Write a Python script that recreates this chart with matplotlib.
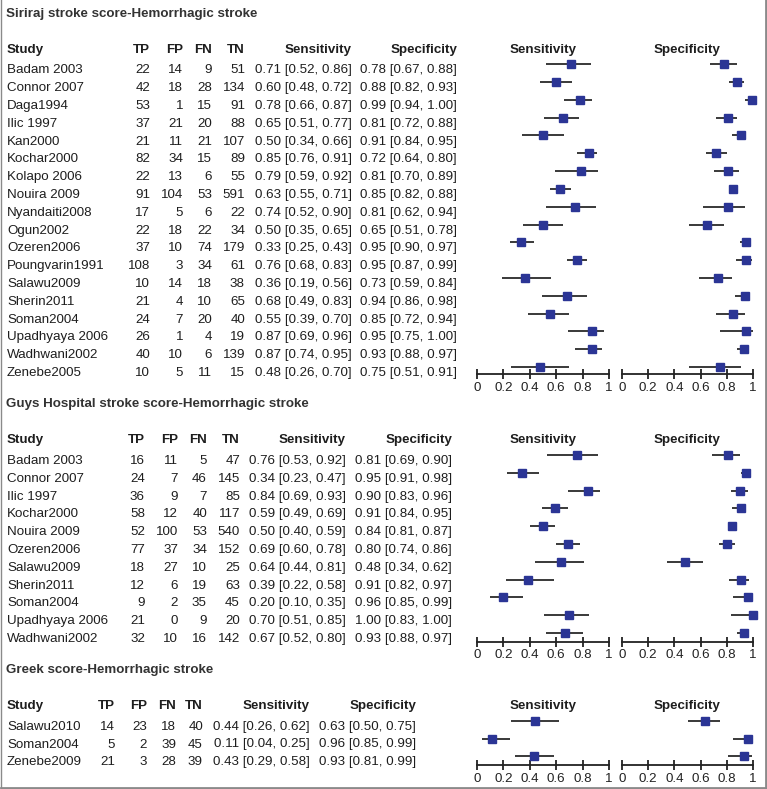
import matplotlib.pyplot as plt

plt.rcParams['font.family'] = ['Liberation Sans', 'DejaVu Sans']

# Siriraj stroke score
siriraj_study = ['Badam 2003', 'Connor 2007', 'Daga1994', 'Ilic 1997', 'Kan2000', 'Kochar2000',
                 'Kolapo 2006', 'Nouira 2009', 'Nyandaiti2008', 'Ogun2002', 'Ozeren2006',
                 'Poungvarin1991', 'Salawu2009', 'Sherin2011', 'Soman2004', 'Upadhyaya 2006',
                 'Wadhwani2002', 'Zenebe2005']
siriraj_tp = [22, 42, 53, 37, 21, 82, 22, 91, 17, 22, 37, 108, 10, 21, 24, 26, 40, 10]
siriraj_fp = [14, 18, 1, 21, 11, 34, 13, 104, 5, 18, 10, 3, 14, 4, 7, 1, 10, 5]
siriraj_fn = [9, 28, 15, 20, 21, 15, 6, 53, 6, 22, 74, 34, 18, 10, 20, 4, 6, 11]
siriraj_tn = [51, 134, 91, 88, 107, 89, 55, 591, 22, 34, 179, 61, 38, 65, 40, 19, 139, 15]
siriraj_sens = [0.71, 0.60, 0.78, 0.65, 0.50, 0.85, 0.79, 0.63, 0.74, 0.50, 0.33, 0.76, 0.36,
                0.68, 0.55, 0.87, 0.87, 0.48]
siriraj_sens_ci = [(0.52, 0.86), (0.48, 0.72), (0.66, 0.87), (0.51, 0.77), (0.34, 0.66),
                   (0.76, 0.91), (0.59, 0.92), (0.55, 0.71), (0.52, 0.90), (0.35, 0.65),
                   (0.25, 0.43), (0.68, 0.83), (0.19, 0.56), (0.49, 0.83), (0.39, 0.70),
                   (0.69, 0.96), (0.74, 0.95), (0.26, 0.70)]
siriraj_spec = [0.78, 0.88, 0.99, 0.81, 0.91, 0.72, 0.81, 0.85, 0.81, 0.65, 0.95, 0.95, 0.73,
                0.94, 0.85, 0.95, 0.93, 0.75]
siriraj_spec_ci = [(0.67, 0.88), (0.82, 0.93), (0.94, 1.00), (0.72, 0.88), (0.84, 0.95),
                   (0.64, 0.80), (0.70, 0.89), (0.82, 0.88), (0.62, 0.94), (0.51, 0.78),
                   (0.90, 0.97), (0.87, 0.99), (0.59, 0.84), (0.86, 0.98), (0.72, 0.94),
                   (0.75, 1.00), (0.88, 0.97), (0.51, 0.91)]

# Guys Hospital stroke score
guys_study = ['Badam 2003', 'Connor 2007', 'Ilic 1997', 'Kochar2000', 'Nouira 2009', 'Ozeren2006',
              'Salawu2009', 'Sherin2011', 'Soman2004', 'Upadhyaya 2006', 'Wadhwani2002']
guys_tp = [16, 24, 36, 58, 52, 77, 18, 12, 9, 21, 32]
guys_fp = [11, 7, 9, 12, 100, 37, 27, 6, 2, 0, 10]
guys_fn = [5, 46, 7, 40, 53, 34, 10, 19, 35, 9, 16]
guys_tn = [47, 145, 85, 117, 540, 152, 25, 63, 45, 20, 142]
guys_sens = [0.76, 0.34, 0.84, 0.59, 0.50, 0.69, 0.64, 0.39, 0.20, 0.70, 0.67]
guys_sens_ci = [(0.53, 0.92), (0.23, 0.47), (0.69, 0.93), (0.49, 0.69), (0.40, 0.59),
                (0.60, 0.78), (0.44, 0.81), (0.22, 0.58), (0.10, 0.35), (0.51, 0.85),
                (0.52, 0.80)]
guys_spec = [0.81, 0.95, 0.90, 0.91, 0.84, 0.80, 0.48, 0.91, 0.96, 1.00, 0.93]
guys_spec_ci = [(0.69, 0.90), (0.91, 0.98), (0.83, 0.96), (0.84, 0.95), (0.81, 0.87),
                (0.74, 0.86), (0.34, 0.62), (0.82, 0.97), (0.85, 0.99), (0.83, 1.00),
                (0.88, 0.97)]

# Greek score
greek_study = ['Salawu2010', 'Soman2004', 'Zenebe2009']
greek_tp = [14, 5, 21]
greek_fp = [23, 2, 3]
greek_fn = [18, 39, 28]
greek_tn = [40, 45, 39]
greek_sens = [0.44, 0.11, 0.43]
greek_sens_ci = [(0.26, 0.62), (0.04, 0.25), (0.29, 0.58)]
greek_spec = [0.63, 0.96, 0.93]
greek_spec_ci = [(0.50, 0.75), (0.85, 0.99), (0.81, 0.99)]

W, H = 767, 789
DY = 17.8
TXT = '#1e1e1e'
NAVY = '#2b3595'
FS = 9.6

# title, data, then layout in pixels: title baseline, header baseline, first row, axis line, column right edges
sections = [
    ('Siriraj stroke score-Hemorrhagic stroke',
     siriraj_study, siriraj_tp, siriraj_fp, siriraj_fn, siriraj_tn,
     siriraj_sens, siriraj_sens_ci, siriraj_spec, siriraj_spec_ci,
     16.5, 52.7, 64.3, 374, [150, 183, 212, 245, 352, 457]),
    ('Guys Hospital stroke score-Hemorrhagic stroke',
     guys_study, guys_tp, guys_fp, guys_fn, guys_tn,
     guys_sens, guys_sens_ci, guys_spec, guys_spec_ci,
     406.7, 442.7, 455, 641.7, [145, 178, 207, 240, 346, 452]),
    ('Greek score-Hemorrhagic stroke',
     greek_study, greek_tp, greek_fp, greek_fn, greek_tn,
     greek_sens, greek_sens_ci, greek_spec, greek_spec_ci,
     673.3, 709.3, 720.7, 765, [115, 147, 176, 203, 310, 416]),
]

fig = plt.figure(figsize=(W / 100, H / 100), dpi=100)

# grey frame (left, right, bottom)
frame = fig.add_axes([0.5 / W, 1 / H, 765.5 / W, 1 - 1 / H])
frame.set_xticks([])
frame.set_yticks([])
frame.patch.set_visible(False)
frame.spines['top'].set_visible(False)
for side, lw in [('left', 1.0), ('right', 2.0), ('bottom', 2.0)]:
    frame.spines[side].set_color('#8a8a8a')
    frame.spines[side].set_linewidth(lw)

bg = fig.add_axes([0, 0, 1, 1])
bg.set_xlim(0, W)
bg.set_ylim(H, 0)
bg.axis('off')


def fmt_ci(v, ci):
    return f'{v:.2f} [{ci[0]:.2f}, {ci[1]:.2f}]'


def forest(x0, x1, row0, axis_y, vals, cis):
    n = len(vals)
    top = row0 - DY / 2
    ax = fig.add_axes([x0 / W, 1 - axis_y / H, (x1 - x0) / W, (axis_y - top) / H])
    rows = list(range(n))
    ax.hlines(rows, [c[0] for c in cis], [c[1] for c in cis], color='#2a2a2a', lw=1.3, clip_on=False)
    ax.plot(vals, rows, 's', color=NAVY, mec=NAVY, ms=6.0, clip_on=False)
    ax.set_xlim(0, 1)
    ax.set_ylim((axis_y - row0) / DY, -0.5)
    ax.patch.set_visible(False)
    for s in ['top', 'left', 'right']:
        ax.spines[s].set_visible(False)
    ax.spines['bottom'].set_linewidth(1.3)
    ax.spines['bottom'].set_color('#222222')
    ax.set_yticks([])
    ax.set_xticks([0, 0.2, 0.4, 0.6, 0.8, 1])
    ax.set_xticklabels(['0', '0.2', '0.4', '0.6', '0.8', '1'])
    ax.tick_params(axis='x', direction='inout', length=7, width=1.3, pad=2,
                   labelsize=FS, colors='#222222')
    return ax


for (title, study, tp, fp, fn, tn, sens, sens_ci, spec, spec_ci,
     title_y, head_y, row0, axis_y, cols) in sections:
    bg.text(6, title_y, title, fontsize=FS, fontweight='bold', color='#333333', va='baseline')
    bg.text(7, head_y, 'Study', fontsize=FS, fontweight='bold', color=TXT, va='baseline')
    for h, cx in zip(['TP', 'FP', 'FN', 'TN', 'Sensitivity', 'Specificity'], cols):
        bg.text(cx, head_y, h, fontsize=FS, fontweight='bold', color=TXT, va='baseline', ha='right')
    bg.text(543, head_y, 'Sensitivity', fontsize=FS, fontweight='bold', color=TXT,
            va='baseline', ha='center')
    bg.text(687.5, head_y, 'Specificity', fontsize=FS, fontweight='bold', color=TXT,
            va='baseline', ha='center')
    for i in range(len(study)):
        yb = row0 + i * DY + 9
        bg.text(7, yb, study[i], fontsize=FS, color=TXT, va='baseline')
        cells = [str(tp[i]), str(fp[i]), str(fn[i]), str(tn[i]),
                 fmt_ci(sens[i], sens_ci[i]), fmt_ci(spec[i], spec_ci[i])]
        for c, cx in zip(cells, cols):
            bg.text(cx, yb, c, fontsize=FS, color=TXT, va='baseline', ha='right')
    forest(477, 609, row0, axis_y, sens, sens_ci)
    forest(622, 753, row0, axis_y, spec, spec_ci)

fig.savefig('out.png', dpi=100)
